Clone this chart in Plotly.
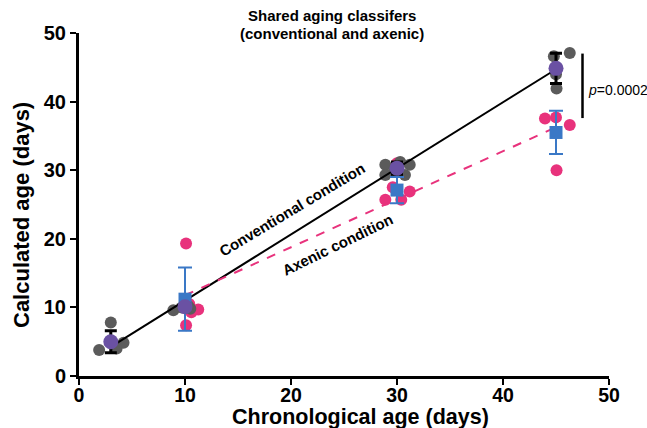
import numpy as np
import plotly.graph_objects as go

FONT = "Liberation Sans, Arial, sans-serif"

# ---- data ----
days = [3, 10, 30, 45]
axenic_days = [10, 30, 45]

conv_x = [1.9, 3.0, 4.2, 3.55, 8.9, 10.3, 9.7, 10.5,
          28.9, 30.3, 31.2, 28.9, 30.75, 29.7, 46.3, 44.8, 45.05, 45.0]
conv_y = [3.8, 7.8, 4.85, 4.0, 9.6, 10.2, 10.0, 9.8,
          30.8, 31.2, 30.8, 29.3, 29.3, 29.8, 47.1, 46.6, 41.9, 44.0]

axen_x = [10.1, 10.1, 11.25, 10.6, 10.4, 28.9, 30.4, 31.2, 30.0, 29.6,
          43.96, 45.0, 46.3, 45.05]
axen_y = [19.3, 7.4, 9.7, 9.3, 10.5, 25.7, 25.7, 26.9, 31.0, 27.5,
          37.55, 37.7, 36.6, 30.0]

conv_mean = [5.0, 10.1, 30.3, 44.85]
conv_sd = [1.6, 0.4, 0.9, 2.2]
axen_mean = [11.2, 27.1, 35.5]
axen_sd = [4.6, 1.9, 3.15]

p_text = "<i>p</i>=0.0002"
p_bracket_x = [47.5, 47.5]
p_bracket_y = [37.6, 47.0]

GREY = "#5b5b5b"
PINK = "#e8327c"
PURPLE = "#6a51a3"
BLUE = "#3a78c6"

fig = go.Figure()

fig.add_trace(go.Scatter(x=axen_x, y=axen_y, mode="markers",
                         marker=dict(color=PINK, size=12), showlegend=False))
fig.add_trace(go.Scatter(x=conv_x, y=conv_y, mode="markers",
                         marker=dict(color=GREY, size=12), showlegend=False))

# regression lines
c_fit = np.polyfit(days, conv_mean, 1)
a_fit = np.polyfit(axenic_days, axen_mean, 1)
cx = np.array([days[0], days[-1]])
ax = np.array([axenic_days[0], axenic_days[-1]])
fig.add_trace(go.Scatter(x=cx, y=np.polyval(c_fit, cx), mode="lines",
                         line=dict(color="black", width=2), showlegend=False))
fig.add_trace(go.Scatter(x=ax, y=np.polyval(a_fit, ax), mode="lines",
                         line=dict(color=PINK, width=2, dash="dash"), showlegend=False))

fig.add_trace(go.Scatter(x=axenic_days, y=axen_mean, mode="markers",
                         marker=dict(color=BLUE, size=13, symbol="square"),
                         error_y=dict(type="data", array=axen_sd, color=BLUE,
                                      thickness=2, width=7),
                         showlegend=False))
fig.add_trace(go.Scatter(x=days, y=conv_mean, mode="markers",
                         marker=dict(color=PURPLE, size=15),
                         error_y=dict(type="data", array=conv_sd, color="black",
                                      thickness=3, width=6),
                         showlegend=False))

# p-value bracket
fig.add_trace(go.Scatter(x=p_bracket_x, y=p_bracket_y, mode="lines",
                         line=dict(color="black", width=2.5), showlegend=False,
                         cliponaxis=False))

fig.add_annotation(x=47.8, y=41.7, text=p_text, showarrow=False,
                   xanchor="left", yanchor="middle",
                   font=dict(family=FONT, size=14, color="black"))

fig.add_annotation(x=20.1, y=24.2, text="<b>Conventional condition</b>", showarrow=False,
                   xanchor="center", yanchor="middle",
                   textangle=-31, font=dict(family=FONT, size=15, color="black"))
fig.add_annotation(x=24.4, y=19.2, text="<b>Axenic condition</b>", showarrow=False,
                   xanchor="center", yanchor="middle",
                   textangle=-26, font=dict(family=FONT, size=15, color="black"))

# title
fig.add_annotation(xref="paper", yref="paper", x=(332 - 79) / 530, y=(376 - 15) / 343,
                   text="<b>Shared aging classifers</b>", showarrow=False,
                   xanchor="center", yanchor="middle",
                   font=dict(family=FONT, size=15, color="black"))
fig.add_annotation(xref="paper", yref="paper", x=(332 - 79) / 530, y=(376 - 33) / 343,
                   text="<b>(conventional and axenic)</b>", showarrow=False,
                   xanchor="center", yanchor="middle",
                   font=dict(family=FONT, size=15, color="black"))

# axis titles
fig.add_annotation(xref="paper", yref="paper", x=(360 - 79) / 530, y=(376 - 417) / 343,
                   text="<b>Chronological age (days)</b>", showarrow=False,
                   xanchor="center", yanchor="middle",
                   font=dict(family=FONT, size=21.5, color="black"))
fig.add_annotation(xref="paper", yref="paper", x=(22 - 79) / 530, y=(376 - 215) / 343,
                   text="<b>Calculated age (days)</b>", showarrow=False, textangle=-90,
                   xanchor="center", yanchor="middle",
                   font=dict(family=FONT, size=22, color="black"))

axis_common = dict(range=[0, 50], tickvals=[0, 10, 20, 30, 40, 50],
                   ticktext=["<b>%d</b>" % v for v in [0, 10, 20, 30, 40, 50]],
                   showgrid=False, zeroline=False, showline=True, linecolor="black",
                   linewidth=3, ticks="outside", ticklen=6, tickwidth=2,
                   tickcolor="black")

fig.update_xaxes(**axis_common, ticklabelstandoff=-6,
                 tickfont=dict(family=FONT, size=19.5, color="black"))
fig.update_yaxes(**axis_common, tickfont=dict(family=FONT, size=20, color="black"))

fig.update_layout(width=647, height=428, margin=dict(l=79, r=38, t=33, b=52),
                  plot_bgcolor="white", paper_bgcolor="white", showlegend=False,
                  font=dict(family=FONT))

fig.write_html("out.html", config={"displayModeBar": False},
               post_script="document.body.style.margin='0';document.body.style.overflow='hidden';")
